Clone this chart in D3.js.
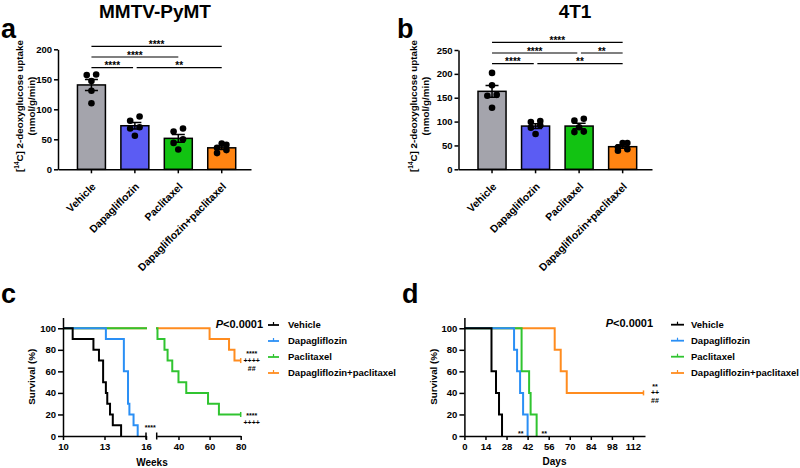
<!DOCTYPE html>
<html>
<head>
<meta charset="utf-8">
<script src="https://cdn.jsdelivr.net/npm/d3@7"></script>
<style>
  body { margin: 0; background: #fff; }
  text { font-family: "Liberation Sans", Arial, sans-serif; font-weight: bold; fill: #000; }
</style>
</head>
<body>
<svg id="fig" width="800" height="468"></svg>
<script>
// ---------- data ----------
var groups = ["Vehicle", "Dapagliflozin", "Paclitaxel", "Dapagliflozin+paclitaxel"]

// a: MMTV-PyMT, [14C] 2-deoxyglucose uptake, one value per mouse
var aVehicle = [158, 157, 147, 131, 110]
var aDapa    = [88, 81, 70, 68, 56]
var aPacli   = [68, 63, 50, 44, 33]
var aCombo   = [43, 41, 36, 32, 27]
var aTicks   = [0, 50, 100, 150, 200]
// [from group, to group, label, row]
var aSig = [[0, 1, "****", 0], [1, 3, "**", 0], [0, 2, "****", 1], [0, 3, "****", 2]]

// b: 4T1
var bVehicle = [202, 176, 156, 154, 129]
var bDapa    = [101, 99, 92, 87, 74]
var bPacli   = [106, 102, 88, 79, 78]
var bCombo   = [55, 55, 46, 42, 39]
var bTicks   = [0, 50, 100, 150, 200, 250]
var bSig = [[0, 1, "****", 0], [1, 3, "**", 0], [0, 2, "****", 1], [2, 3, "**", 1], [0, 3, "****", 2]]

// c: survival (weeks) - time of each drop and % alive after it
var cVehicleT = [10.7, 12.2, 12.6, 12.9, 13.1, 13.2, 13.4, 13.6, 14.2]
var cVehicleS = [90, 80, 70, 50, 40, 30, 20, 10, 0]
var cDapaT  = [13.1, 14.4, 14.7, 14.8, 15.1, 15.4]
var cDapaS  = [90, 60, 30, 20, 10, 0]
var cPacliT = [26.5, 31, 33, 36, 40, 45, 59, 66]
var cPacliS = [90, 80, 70, 60, 50, 40, 30, 20]
var cComboT = [60, 72.5, 76]
var cComboS = [90, 80, 70]
var cEnd    = [null, null, 80, 80]     // censored at end of follow-up
var cTicks1 = [10, 13, 16]
var cTicks2 = [40, 60, 80]

// d: survival (days)
var dVehicleT = [18, 21, 23, 25]
var dVehicleS = [60, 40, 20, 0]
var dDapaT  = [33, 35, 37, 39, 42]
var dDapaS  = [80, 60, 40, 20, 0]
var dPacliT = [38, 43, 44, 48]
var dPacliS = [60, 40, 20, 0]
var dComboT = [60, 64, 68]
var dComboS = [80, 60, 40]
var dEnd    = [null, null, null, 119]
var dTicks  = [0, 14, 28, 42, 56, 70, 84, 98, 112]
var survTicks = [0, 20, 40, 60, 80, 100]

var barColors  = ["#a4a4ac", "#5b5cf3", "#12c312", "#ff8412"]
var survColors = ["#000000", "#2a8ff5", "#30c430", "#ff8c1f"]

var svg = d3.select("#fig")

function txt(g, x, y, s, size, anchor) {
  return g.append("text").attr("x", x).attr("y", y)
    .attr("font-size", size).attr("text-anchor", anchor || "start").text(s)
}

function styleAxis(sel, fs) {
  sel.attr("font-size", null).attr("font-family", null)
  sel.select(".domain").attr("stroke-width", 1.5)
  sel.selectAll(".tick line").attr("stroke-width", 1.5)
  sel.selectAll(".tick text").attr("font-size", fs)
}

// pair up neighbouring dots like a scatter-dot plot
function swarm(vals, y) {
  var s = vals.slice().sort(d3.ascending), out = [], i = 0
  while (i < s.length) {
    if (i + 1 < s.length && Math.abs(y(s[i]) - y(s[i + 1])) < 5.5) {
      out.push([s[i], -4.7], [s[i + 1], 4.7]); i += 2
    } else { out.push([s[i], 0]); i++ }
  }
  return out
}

function yLabel(g, x1, x2, cy) {
  var t = g.append("text").attr("font-size", 9.8).attr("text-anchor", "middle")
    .attr("transform", "translate(" + x1 + "," + cy + ") rotate(-90)").attr("dy", "0.35em")
  t.append("tspan").text("[")
  t.append("tspan").attr("font-size", 6.5).attr("dy", -4).text("14")
  t.append("tspan").attr("dy", 4).text("C] 2-deoxyglucose uptake")
  g.append("text").attr("font-size", 9.8).attr("text-anchor", "middle")
    .attr("transform", "translate(" + x2 + "," + cy + ") rotate(-90)").attr("dy", "0.35em")
    .text("(nmol/g/min)")
}

function barPanel(p) {
  var g = svg.append("g")
  var x = d3.scaleBand().domain(groups).range([p.left, p.right])
    .paddingInner(0.356).paddingOuter(0.4).align(0.56)
  var y = d3.scaleLinear().domain([0, p.ticks[p.ticks.length - 1]]).range([p.bottom, p.top])
  var cx = function(i) { return x(groups[i]) + x.bandwidth() / 2 }

  var stats = p.values.map(function(v) {
    return { m: d3.mean(v), se: d3.deviation(v) / Math.sqrt(v.length) }
  })

  g.selectAll("rect.bar").data(stats).enter().append("rect")
    .attr("x", function(d, i) { return x(groups[i]) })
    .attr("y", function(d) { return y(d.m) })
    .attr("width", x.bandwidth())
    .attr("height", function(d) { return y(0) - y(d.m) })
    .attr("fill", function(d, i) { return barColors[i] })
    .attr("stroke", "#000").attr("stroke-width", 1.5)

  stats.forEach(function(d, i) {
    var c = cx(i), lo = y(d.m - d.se), hi = y(d.m + d.se)
    g.append("path").attr("fill", "none").attr("stroke", "#000").attr("stroke-width", 1.5)
      .attr("d", "M" + c + "," + lo + "V" + hi + "M" + (c - 6.5) + "," + hi + "H" + (c + 6.5) +
        "M" + (c - 6.5) + "," + lo + "H" + (c + 6.5))
  })

  p.values.forEach(function(v, i) {
    g.selectAll(null).data(swarm(v, y)).enter().append("circle")
      .attr("cx", function(d) { return cx(i) + d[1] })
      .attr("cy", function(d) { return y(d[0]) })
      .attr("r", 3.3).attr("fill", "#000")
  })

  var ax = g.append("g").attr("transform", "translate(" + p.left + ",0)")
    .call(d3.axisLeft(y).tickValues(p.ticks).tickSize(4).tickSizeOuter(0).tickPadding(2))
  styleAxis(ax, 9.5)

  var bx = g.append("g").attr("transform", "translate(0," + p.bottom + ")")
    .call(d3.axisBottom(x).tickSize(4).tickSizeOuter(0))
  styleAxis(bx, 10.5)
  bx.selectAll(".tick text").attr("text-anchor", "end").attr("x", 0).attr("y", 0).attr("dy", 0)
    .attr("transform", "translate(5,18) rotate(-45)")

  // significance brackets
  p.sig.forEach(function(s) {
    var ly = p.sigBase - s[3] * 10.7
    var shareStart = p.sig.some(function(o) { return o[3] === s[3] && o[1] === s[0] })
    var shareEnd = p.sig.some(function(o) { return o[3] === s[3] && o[0] === s[1] })
    var x1 = cx(s[0]) + (shareStart ? 1.8 : 0), x2 = cx(s[1]) - (shareEnd ? 1.8 : 0)
    g.append("line").attr("x1", x1).attr("x2", x2).attr("y1", ly).attr("y2", ly)
      .attr("stroke", "#000").attr("stroke-width", 1.2)
    txt(g, (x1 + x2) / 2, ly + 1.5, s[2], 10, "middle")
  })

  yLabel(g, p.lab1, p.lab2, 106)
  txt(g, p.titleX, 18, p.title, 19, "middle")
  txt(g, p.letterX, 38, p.letter, 27)
}

barPanel({ left: 58, right: 251, top: 49.3, bottom: 169.3, ticks: aTicks,
  values: [aVehicle, aDapa, aPacli, aCombo], sig: aSig, sigBase: 67.7,
  lab1: 20, lab2: 31.5, title: "MMTV-PyMT", titleX: 155, letter: "a", letterX: 1 })

barPanel({ left: 458.5, right: 652, top: 50, bottom: 169.3, ticks: bTicks,
  values: [bVehicle, bDapa, bPacli, bCombo], sig: bSig, sigBase: 63.7,
  lab1: 414, lab2: 426, title: "4T1", titleX: 575, letter: "b", letterX: 397 })

// ---------- survival panels ----------
function stepPoints(T, S, end, start) {
  var pts = [[start, 100]]
  T.forEach(function(t, i) { pts.push([t, S[i]]) })
  if (end != null) pts.push([end, S[S.length - 1]])
  return pts
}

function drawCurves(g, x, y, T, S, E, start) {
  var line = d3.line().curve(d3.curveStepAfter)
    .x(function(d) { return x(d[0]) }).y(function(d) { return y(d[1]) })
  ;[3, 2, 1, 0].forEach(function(k) {
    g.append("path").attr("d", line(stepPoints(T[k], S[k], E[k], start)))
      .attr("fill", "none").attr("stroke", survColors[k]).attr("stroke-width", 2)
    if (E[k] != null) {
      var ey = y(S[k][S[k].length - 1])
      g.append("line").attr("x1", x(E[k])).attr("x2", x(E[k])).attr("y1", ey - 2.5).attr("y2", ey + 2.5)
        .attr("stroke", survColors[k]).attr("stroke-width", 1.5)
    }
  })
}

function notes(g, x, y, lines, fs, first) {
  lines.forEach(function(s, i) {
    var vy = y + (i - first) * 8.2
    var base = vy + (s.indexOf("*") >= 0 ? 0.57 : 0.34) * fs
    txt(g, x, base, s, fs, "middle")
  })
}

function legend(g, px, py, sx0, sx1, tx, ys) {
  var t = g.append("text").attr("x", px).attr("y", py).attr("font-size", 11)
  t.append("tspan").attr("font-style", "italic").text("P")
  t.append("tspan").text("<0.0001")
  groups.forEach(function(name, i) {
    var c = survColors[i], ly = ys[i]
    g.append("line").attr("x1", sx0).attr("x2", sx1).attr("y1", ly).attr("y2", ly)
      .attr("stroke", c).attr("stroke-width", 1.8)
    var m = (sx0 + sx1) / 2
    g.append("line").attr("x1", m).attr("x2", m).attr("y1", ly - 3).attr("y2", ly)
      .attr("stroke", c).attr("stroke-width", 1.2)
    txt(g, tx, ly, name, 9.5).attr("dy", "0.35em")
  })
}

function survYAxis(g, y, left, labX) {
  var ax = g.append("g").attr("transform", "translate(" + left + ",0)")
    .call(d3.axisLeft(y).tickValues(survTicks).tickSize(5).tickSizeOuter(0).tickPadding(2))
  styleAxis(ax, 9.5)
  g.append("text").attr("font-size", 9.8).attr("text-anchor", "middle").attr("dy", "0.35em")
    .attr("transform", "translate(" + labX + "," + y(55) + ") rotate(-90)").text("Survival (%)")
}

// c
var gc = svg.append("g")
var cY  = d3.scaleLinear().domain([0, 110]).range([436, 317.5])
var cX1 = d3.scaleLinear().domain([10, 16]).range([63, 146])
var cX2 = d3.scaleLinear().domain([26, 80]).range([156.7, 240.7])
var defs = svg.append("defs")
defs.append("clipPath").attr("id", "c1").append("rect").attr("x", 62).attr("y", 300).attr("width", 85).attr("height", 140)
defs.append("clipPath").attr("id", "c2").append("rect").attr("x", 156).attr("y", 300).attr("width", 90).attr("height", 140)
var cT = [cVehicleT, cDapaT, cPacliT, cComboT], cS = [cVehicleS, cDapaS, cPacliS, cComboS]
drawCurves(gc.append("g").attr("clip-path", "url(#c1)"), cX1, cY, cT, cS, cEnd, 10)
drawCurves(gc.append("g").attr("clip-path", "url(#c2)"), cX2, cY, cT, cS, cEnd, 10)
survYAxis(gc, cY, 63, 32)
var cx1 = gc.append("g").attr("transform", "translate(0,436)")
  .call(d3.axisBottom(cX1).tickValues(cTicks1).tickFormat(d3.format("d")).tickSize(4).tickSizeOuter(0).tickPadding(3))
styleAxis(cx1, 9.5)
var cx2 = gc.append("g").attr("transform", "translate(0,436)")
  .call(d3.axisBottom(cX2).tickValues(cTicks2).tickFormat(d3.format("d")).tickSize(4).tickSizeOuter(0).tickPadding(3))
styleAxis(cx2, 9.5)
;[cX1.range()[1], cX2.range()[0]].forEach(function(bx) {
  gc.append("line").attr("x1", bx).attr("x2", bx).attr("y1", 432.5).attr("y2", 439.5)
    .attr("stroke", "#000").attr("stroke-width", 1.5)
})
txt(gc, 152, 466, "Weeks", 10, "middle")
notes(gc, cX1(15.4) + 12.5, cY(9), ["****"], 7, 0)
notes(gc, cX2(80) + 11, cY(70), ["****", "++++", "##"], 7, 1)
notes(gc, cX2(80) + 11, cY(20), ["****", "++++"], 7, 0)
legend(gc, 215.7, 328, 268, 279, 288, [325, 341, 357, 373])
txt(gc, 1, 303, "c", 27)

// d
var gd = svg.append("g")
var dY = d3.scaleLinear().domain([0, 110]).range([436, 317.5])
var dX = d3.scaleLinear().domain([0, 120]).range([464.4, 645])
drawCurves(gd, dX, dY, [dVehicleT, dDapaT, dPacliT, dComboT], [dVehicleS, dDapaS, dPacliS, dComboS], dEnd, 0)
survYAxis(gd, dY, 464.4, 434)
var dx = gd.append("g").attr("transform", "translate(0,436)")
  .call(d3.axisBottom(dX).tickValues(dTicks).tickSize(4).tickSizeOuter(0).tickPadding(3))
styleAxis(dx, 9.5)
txt(gd, 554.5, 465, "Days", 10, "middle")
notes(gd, dX(37.5), dY(4), ["**"], 7, 0)
notes(gd, dX(53), dY(4), ["**"], 7, 0)
notes(gd, dX(119) + 11.5, dY(40), ["**", "++", "##"], 7, 1)
legend(gd, 605.7, 327, 671, 684, 691, [324.7, 340.7, 356.7, 373])
txt(gd, 402, 303, "d", 27)
</script>
</body>
</html>
